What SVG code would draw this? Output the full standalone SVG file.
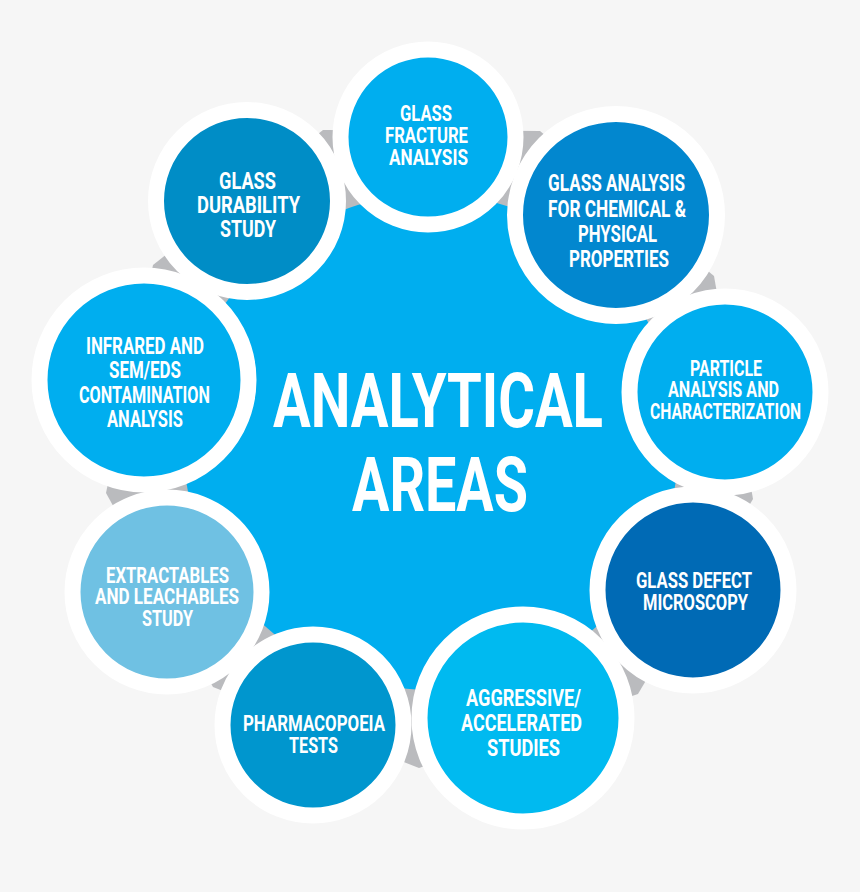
<svg xmlns="http://www.w3.org/2000/svg" width="860" height="892" viewBox="0 0 860 892">
<style>
.ring{stroke:#ffffff;stroke-width:16}
.lbl{font-family:Roboto,"Liberation Sans",sans-serif;font-weight:700;fill:#ffffff;text-anchor:middle}
.s24{font-size:23.5px}
.s22{font-size:22px}
.main{font-family:Roboto,"Liberation Sans",sans-serif;font-weight:700;font-size:76px;fill:#ffffff;text-anchor:middle}
</style>
<rect width="860" height="892" fill="#f6f6f6"/>
<g id="backdrop">
<polygon fill="#babbbe" points="153,265 323,130 540,131 714,276 753,499 638,694 419,768 213,687 106,493"/>
<circle cx="431" cy="442" r="248" fill="#00aeef"/>
</g>
<g id="connectors"></g>
<g id="center">
<text class="main" x="438" y="427" textLength="330" lengthAdjust="spacingAndGlyphs">ANALYTICAL</text>
<text class="main" x="440" y="511" textLength="176" lengthAdjust="spacingAndGlyphs">AREAS</text>
</g>
<g id="fracture">
<circle class="ring" cx="428" cy="137" r="87.5" fill="#00aeef"/>
<text class="lbl s22" x="426" y="121" textLength="52" lengthAdjust="spacingAndGlyphs">GLASS</text>
<text class="lbl s22" x="426.5" y="143" textLength="83" lengthAdjust="spacingAndGlyphs">FRACTURE</text>
<text class="lbl s22" x="428.5" y="165" textLength="79" lengthAdjust="spacingAndGlyphs">ANALYSIS</text>
</g>
<g id="durability">
<circle class="ring" cx="247" cy="201" r="91" fill="#008dc6"/>
<text class="lbl s24" x="247.5" y="189" textLength="57" lengthAdjust="spacingAndGlyphs">GLASS</text>
<text class="lbl s24" x="248.5" y="213" textLength="103" lengthAdjust="spacingAndGlyphs">DURABILITY</text>
<text class="lbl s24" x="248" y="237" textLength="56" lengthAdjust="spacingAndGlyphs">STUDY</text>
</g>
<g id="chemical">
<circle class="ring" cx="616" cy="215" r="101" fill="#0287cf"/>
<text class="lbl s24" x="616.5" y="191" textLength="137" lengthAdjust="spacingAndGlyphs">GLASS ANALYSIS</text>
<text class="lbl s24" x="617" y="217" textLength="138" lengthAdjust="spacingAndGlyphs">FOR CHEMICAL &amp;</text>
<text class="lbl s24" x="617.5" y="242" textLength="79" lengthAdjust="spacingAndGlyphs">PHYSICAL</text>
<text class="lbl s24" x="619" y="267" textLength="100" lengthAdjust="spacingAndGlyphs">PROPERTIES</text>
</g>
<g id="infrared">
<circle class="ring" cx="144" cy="380" r="104.5" fill="#00aeef"/>
<text class="lbl s24" x="145" y="354" textLength="118" lengthAdjust="spacingAndGlyphs">INFRARED AND</text>
<text class="lbl s24" x="145" y="378" textLength="72" lengthAdjust="spacingAndGlyphs">SEM/EDS</text>
<text class="lbl s24" x="144.5" y="403" textLength="131" lengthAdjust="spacingAndGlyphs">CONTAMINATION</text>
<text class="lbl s24" x="145" y="427" textLength="76" lengthAdjust="spacingAndGlyphs">ANALYSIS</text>
</g>
<g id="particle">
<circle class="ring" cx="725" cy="392" r="95.5" fill="#00aeef"/>
<text class="lbl s22" x="726" y="376" textLength="72" lengthAdjust="spacingAndGlyphs">PARTICLE</text>
<text class="lbl s22" x="723.5" y="397" textLength="111" lengthAdjust="spacingAndGlyphs">ANALYSIS AND</text>
<text class="lbl s22" x="725.5" y="419" textLength="151" lengthAdjust="spacingAndGlyphs">CHARACTERIZATION</text>
</g>
<g id="extractables">
<circle class="ring" cx="167" cy="592" r="94.5" fill="#6fc1e3"/>
<text class="lbl s22" x="167.5" y="583" textLength="123" lengthAdjust="spacingAndGlyphs">EXTRACTABLES</text>
<text class="lbl s22" x="167" y="604" textLength="144" lengthAdjust="spacingAndGlyphs">AND LEACHABLES</text>
<text class="lbl s22" x="167.5" y="626" textLength="51" lengthAdjust="spacingAndGlyphs">STUDY</text>
</g>
<g id="defect">
<circle class="ring" cx="693" cy="590" r="95.5" fill="#006ab5"/>
<text class="lbl s22" x="694" y="588" textLength="116" lengthAdjust="spacingAndGlyphs">GLASS DEFECT</text>
<text class="lbl s22" x="695.5" y="610" textLength="105" lengthAdjust="spacingAndGlyphs">MICROSCOPY</text>
</g>
<g id="pharmacopoeia">
<circle class="ring" cx="313" cy="725" r="90.5" fill="#0096ce"/>
<text class="lbl s22" x="314" y="731" textLength="142" lengthAdjust="spacingAndGlyphs">PHARMACOPOEIA</text>
<text class="lbl s22" x="313.5" y="753" textLength="49" lengthAdjust="spacingAndGlyphs">TESTS</text>
</g>
<g id="aggressive">
<circle class="ring" cx="523" cy="718" r="103.5" fill="#00baf0"/>
<text class="lbl s24" x="523.5" y="706" textLength="115" lengthAdjust="spacingAndGlyphs">AGGRESSIVE/</text>
<text class="lbl s24" x="521.5" y="731" textLength="121" lengthAdjust="spacingAndGlyphs">ACCELERATED</text>
<text class="lbl s24" x="523.5" y="756" textLength="73" lengthAdjust="spacingAndGlyphs">STUDIES</text>
</g>
</svg>
